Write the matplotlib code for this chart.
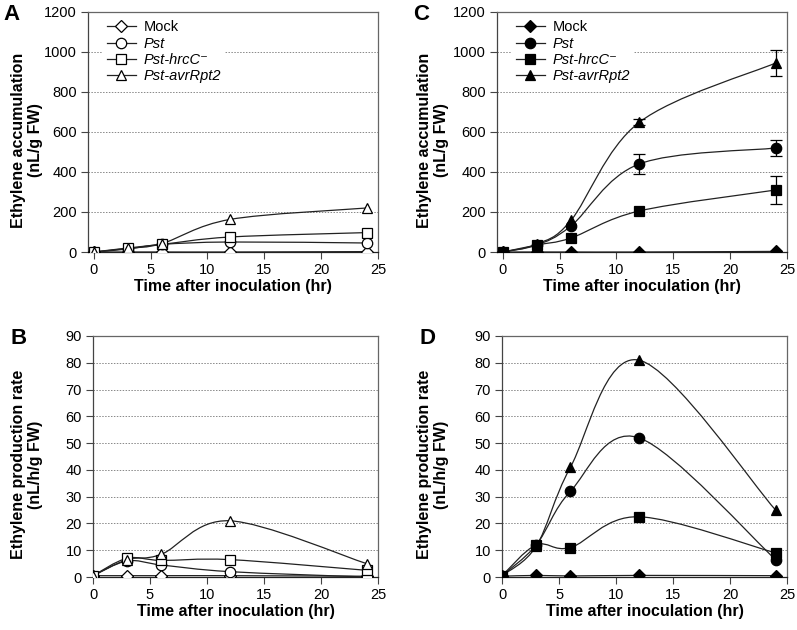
import numpy as np
import matplotlib.pyplot as plt
from matplotlib.path import Path
from matplotlib.patches import PathPatch

plt.rcParams['font.family'] = ['Liberation Sans', 'DejaVu Sans']

# data
hours = [0, 3, 6, 12, 24]
series_names = ["Mock", "Pst", "Pst-hrcC\u207B", "Pst-avrRpt2"]
series_markers = ["D", "o", "s", "^"]

# A: accumulation, open symbols
acc_open = [
    [0, 0, 0, 0, 2],
    [0, 15, 38, 50, 45],
    [0, 20, 38, 75, 97],
    [0, 18, 42, 163, 220],
]
# B: production rate, open symbols
rate_open = [
    [0.5, 0.5, 0.5, 0.5, 0.3],
    [0.5, 6, 4.5, 2, 0],
    [0.5, 7, 6.2, 6.5, 2.5],
    [0.5, 6.5, 8.5, 21, 5],
]
# C: accumulation, filled symbols
acc_filled = [
    [0, 0, 0, 0, 3],
    [0, 35, 130, 440, 520],
    [0, 35, 70, 205, 310],
    [0, 40, 158, 648, 945],
]
acc_filled_err = [
    [0, 0, 0, 0, 0],
    [0, 0, 0, 50, 40],
    [0, 0, 0, 0, 70],
    [0, 0, 0, 15, 65],
]
# D: production rate, filled symbols
rate_filled = [
    [0.3, 0.6, 0.4, 0.6, 0.5],
    [0.5, 12, 32, 52, 6.5],
    [0.5, 12, 11, 22.5, 9],
    [0.5, 11.5, 41, 81, 25],
]


def smooth_path(ax, x, y, xr, yr):
    # smoothed line like excel: bezier segments, control points from neighbours
    x = np.asarray(x, float)
    y = np.asarray(y, float)
    sx = x / xr
    sy = y / yr
    n = len(x)
    verts = [(x[0], y[0])]
    codes = [Path.MOVETO]
    for i in range(n - 1):
        i0 = max(i - 1, 0)
        i3 = min(i + 2, n - 1)
        c1x = sx[i] + (sx[i + 1] - sx[i0]) / 6
        c1y = sy[i] + (sy[i + 1] - sy[i0]) / 6
        c2x = sx[i + 1] - (sx[i3] - sx[i]) / 6
        c2y = sy[i + 1] - (sy[i3] - sy[i]) / 6
        verts += [(c1x * xr, c1y * yr), (c2x * xr, c2y * yr), (x[i + 1], y[i + 1])]
        codes += [Path.CURVE4] * 3
    patch = PathPatch(Path(verts, codes), facecolor="none", edgecolor="#222222", lw=0.9, zorder=3)
    ax.add_patch(patch)


def panel(ax, data, ymax, ystep, filled, ylabel, letter, label_x, err=None, xmin=-0.5, legend=False):
    ax.set_xlim(xmin, 25)
    ax.set_ylim(0, ymax)
    ax.set_yticks(np.arange(0, ymax + 1, ystep))
    ax.set_xticks([0, 5, 10, 15, 20, 25])
    for yv in np.arange(ystep, ymax, ystep):
        ax.axhline(yv, color="#888888", lw=0.7, ls=(0, (1.5, 1.5)), zorder=1)
    face = "black" if filled else "white"
    for k, vals in enumerate(data):
        smooth_path(ax, hours, vals, 25 - xmin, ymax)
        ms = 7.5 if series_markers[k] != "D" else 6
        ax.plot(hours, vals, ls="none", marker=series_markers[k], ms=ms,
                mfc=face, mec="black", mew=0.9, zorder=5)
        if err is not None:
            e = np.array(err[k])
            idx = e > 0
            ax.errorbar(np.array(hours)[idx], np.array(vals)[idx], yerr=e[idx], fmt="none",
                        ecolor="black", elinewidth=0.9, capsize=4, capthick=0.9, zorder=4)
    if legend:
        handles = []
        for k in range(4):
            ms = 7.5 if series_markers[k] != "D" else 6
            h, = ax.plot([], [], color="#222222", lw=0.9, marker=series_markers[k], ms=ms,
                         mfc=face, mec="black", mew=0.9)
            handles.append(h)
        leg = ax.legend(handles, series_names, loc="upper left", bbox_to_anchor=(0.04, 0.995),
                        frameon=True, facecolor="white", edgecolor="none", framealpha=1,
                        fontsize=10.5, handlelength=2.0, handletextpad=0.5, labelspacing=0.15,
                        borderpad=0.3, borderaxespad=0.2)
        leg.set_zorder(6)
        for t in leg.get_texts()[1:]:
            t.set_fontstyle("italic")
    for sp in ax.spines.values():
        sp.set_color("#666666")
        sp.set_linewidth(0.9)
    ax.spines["bottom"].set_color("#222222")
    ax.spines["left"].set_color("#444444")
    ax.tick_params(labelsize=10.5, length=5, width=0.8, color="#444444", pad=3)
    ax.set_xlabel("Time after inoculation (hr)", fontsize=11.5, fontweight="bold", labelpad=1)
    ax.set_ylabel(ylabel, fontsize=11.5, fontweight="bold", linespacing=1.1, va="center")
    # y label centre at a fixed pixel column of the figure
    fig_w = ax.figure.get_figwidth() * ax.figure.dpi
    x0 = ax.get_position().x0 * fig_w
    w = ax.get_position().width * fig_w
    ax.yaxis.set_label_coords((label_x - x0) / w, 0.467)
    ax.text(-0.29, 1.035, letter, transform=ax.transAxes, fontsize=16, fontweight="bold",
            va="top", ha="left")


fig = plt.figure(figsize=(7.97, 6.30), dpi=100)
axA = fig.add_axes([0.1104, 0.600, 0.3639, 0.381])
axC = fig.add_axes([0.6236, 0.600, 0.3639, 0.381])
axB = fig.add_axes([0.1167, 0.0841, 0.3576, 0.3826])
axD = fig.add_axes([0.6299, 0.0841, 0.3576, 0.3826])

acc_label = "Ethylene accumulation\n(nL/g FW)"
rate_label = "Ethylene production rate\n(nL/h/g FW)"
panel(axA, acc_open, 1200, 200, False, acc_label, "A", 27, legend=True)
panel(axC, acc_filled, 1200, 200, True, acc_label, "C", 433, err=acc_filled_err, legend=True)
panel(axB, rate_open, 90, 10, False, rate_label, "B", 27, xmin=0)
panel(axD, rate_filled, 90, 10, True, rate_label, "D", 433, xmin=0)

fig.savefig("out.png", dpi=100)
